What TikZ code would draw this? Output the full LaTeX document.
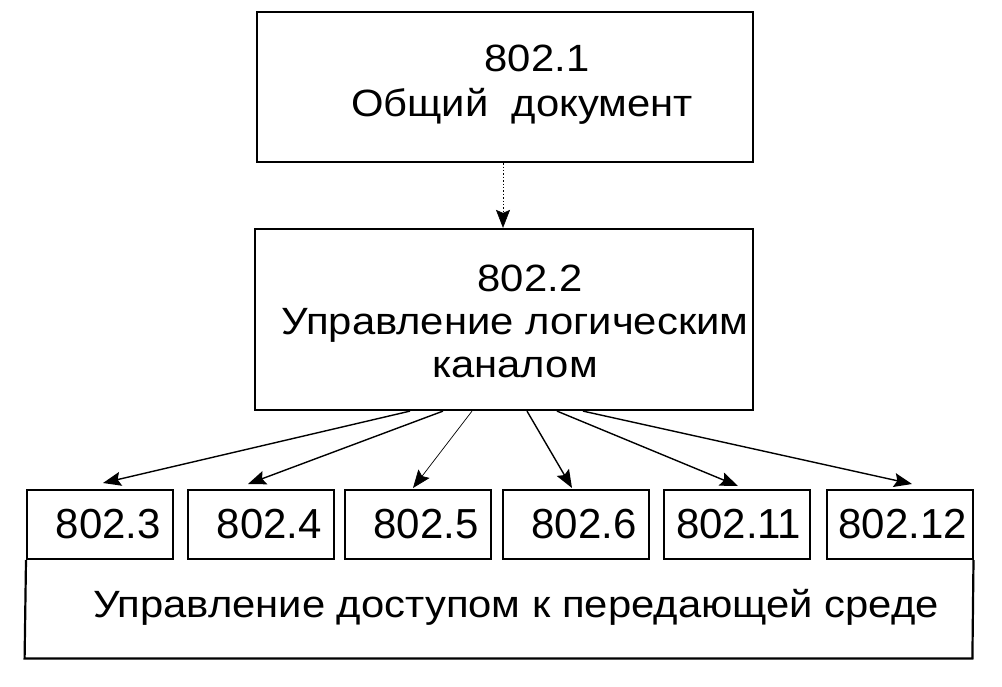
\documentclass[tikz,border=0pt]{standalone}
\usepackage{fontspec}
\setmainfont{Liberation Sans}
\newfontfamily\widefont{Liberation Sans}[FakeStretch=1.1]
\usetikzlibrary{arrows.meta}
\usetikzlibrary{calc}
\tikzset{
  stdbox/.style={draw,line width=1.1pt,inner sep=0pt},
  subbox/.style={draw,line width=1pt,minimum width=73pt,minimum height=34.5pt,
    inner xsep=6pt,inner ysep=0pt,text width=61pt,align=right,
    font=\fontsize{21}{24}\selectfont},
  boxlabel/.style={inner sep=0pt,align=center,font=\widefont\fontsize{19}{22}\selectfont},
  link/.style={-{Stealth[length=9pt,width=7pt,inset=1.5pt]},line width=0.7pt},
}

\begin{document}
\begin{tikzpicture}[x=0.5pt,y=-0.5pt]
    \useasboundingbox (0,0) rectangle (1002,686);
    % Upper boxes
    \node[stdbox,minimum width=248pt,minimum height=75pt] (gen) at (505,87) {};
    \node[boxlabel,anchor=north,font=\widefont\fontsize{19}{22.5}\selectfont]
      (gentxt) at (522,44.5) {\hspace*{15pt}802.1\\Общий\ \ документ};
    \node[stdbox,minimum width=249pt,minimum height=90.5pt] (llc) at (504,319.5) {};
    \node[boxlabel,anchor=north,font=\widefont\fontsize{19}{21.5}\selectfont]
      (llctxt) at (515,265) {\hspace*{15pt}802.2\\Управление логическим\\каналом};
    % Lower box, its top edge is made by the small boxes
    \node[minimum width=473.5pt,minimum height=85pt,inner sep=0pt] (mac) at (498.5,573) {};
    \node[boxlabel,anchor=base] (mactxt) at (516,617)
      {Управление доступом к передающей среде};
    \node[subbox] (m3)  at (100,524.5)   {802.3};
    \node[subbox] (m4)  at (261,524.5)   {802.4};
    \node[subbox] (m5)  at (417.5,524.5) {802.5};
    \node[subbox] (m6)  at (575.5,524.5) {802.6};
    \node[subbox] (m11) at (737,524.5)   {802.11};
    \node[subbox] (m12) at (899.5,524.5) {802.12};
    \draw[line width=1.1pt] (m3.south west) -- (mac.south west)
      -- (mac.south east) -- (m12.south east);
    % Arrows
    \draw[link,densely dotted,line width=0.3pt] ($(gen.south)+(-2,0)$) -- ($(llc.north)+(-1,0)$);
    \draw[link] ($(llc.south)+(-94,0)$) -- ($(m3.north)+(3,-6)$);
    \draw[link] ($(llc.south)+(-61,0)$) -- ($(m4.north)+(-13,-5)$);
    \draw[link,line width=0.35pt] ($(llc.south)+(-32,0)$) -- ($(m5.north)+(-4.5,-1)$);
    \draw[link] ($(llc.south)+(23,0)$) -- ($(m6.north)+(-3.5,-1)$);
    \draw[link] ($(llc.south)+(53,0)$) -- ($(m11.north)+(1,-3)$);
    \draw[link] ($(llc.south)+(79,0)$) -- ($(m12.north)+(12.5,-5)$);
\end{tikzpicture}
\end{document}
